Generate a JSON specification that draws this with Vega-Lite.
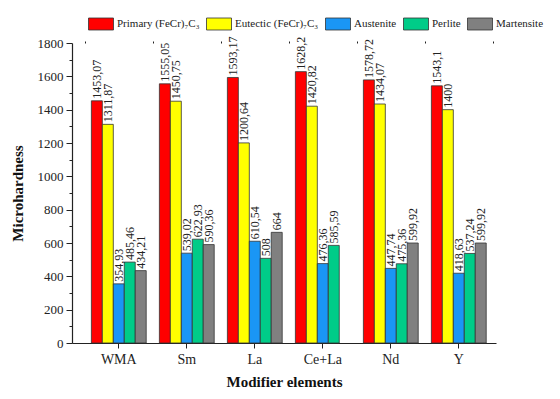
{
  "$schema": "https://vega.github.io/schema/vega-lite/v6.json",
  "width": 424,
  "height": 300,
  "autosize": {"type": "none"},
  "padding": {"left": 72, "top": 43, "right": 64, "bottom": 56},
  "background": "white",
  "config": {
    "font": "Liberation Serif",
    "view": {"stroke": null},
    "legend": {"labelFont": "Liberation Serif"},
    "axis": {"domainColor": "#222", "tickColor": "#222", "labelColor": "#222", "titleColor": "#111", "grid": false}
  },
  "data": {
    "values": [
      {"element": "WMA", "phase": "Primary (FeCr)₇C₃", "value": 1453.07, "label": "1453,07"},
      {"element": "WMA", "phase": "Eutectic (FeCr)₇C₃", "value": 1311.87, "label": "1311,87"},
      {"element": "WMA", "phase": "Austenite", "value": 354.93, "label": "354,93"},
      {"element": "WMA", "phase": "Perlite", "value": 485.46, "label": "485,46"},
      {"element": "WMA", "phase": "Martensite", "value": 434.21, "label": "434,21"},
      {"element": "Sm", "phase": "Primary (FeCr)₇C₃", "value": 1555.05, "label": "1555,05"},
      {"element": "Sm", "phase": "Eutectic (FeCr)₇C₃", "value": 1450.75, "label": "1450,75"},
      {"element": "Sm", "phase": "Austenite", "value": 539.02, "label": "539,02"},
      {"element": "Sm", "phase": "Perlite", "value": 622.93, "label": "622,93"},
      {"element": "Sm", "phase": "Martensite", "value": 590.36, "label": "590,36"},
      {"element": "La", "phase": "Primary (FeCr)₇C₃", "value": 1593.17, "label": "1593,17"},
      {"element": "La", "phase": "Eutectic (FeCr)₇C₃", "value": 1200.64, "label": "1200,64"},
      {"element": "La", "phase": "Austenite", "value": 610.54, "label": "610,54"},
      {"element": "La", "phase": "Perlite", "value": 508, "label": "508"},
      {"element": "La", "phase": "Martensite", "value": 664, "label": "664"},
      {"element": "Ce+La", "phase": "Primary (FeCr)₇C₃", "value": 1628.2, "label": "1628,2"},
      {"element": "Ce+La", "phase": "Eutectic (FeCr)₇C₃", "value": 1420.82, "label": "1420,82"},
      {"element": "Ce+La", "phase": "Austenite", "value": 476.36, "label": "476,36"},
      {"element": "Ce+La", "phase": "Perlite", "value": 585.59, "label": "585,59"},
      {"element": "Nd", "phase": "Primary (FeCr)₇C₃", "value": 1578.72, "label": "1578,72"},
      {"element": "Nd", "phase": "Eutectic (FeCr)₇C₃", "value": 1434.07, "label": "1434,07"},
      {"element": "Nd", "phase": "Austenite", "value": 447.74, "label": "447,74"},
      {"element": "Nd", "phase": "Perlite", "value": 475.36, "label": "475,36"},
      {"element": "Nd", "phase": "Martensite", "value": 599.92, "label": "599,92"},
      {"element": "Y", "phase": "Primary (FeCr)₇C₃", "value": 1543.1, "label": "1543,1"},
      {"element": "Y", "phase": "Eutectic (FeCr)₇C₃", "value": 1400, "label": "1400"},
      {"element": "Y", "phase": "Austenite", "value": 418.63, "label": "418,63"},
      {"element": "Y", "phase": "Perlite", "value": 537.24, "label": "537,24"},
      {"element": "Y", "phase": "Martensite", "value": 599.92, "label": "599,92"}
    ]
  },
  "encoding": {
    "x": {
      "field": "element", "type": "nominal", "sort": ["WMA", "Sm", "La", "Ce+La", "Nd", "Y"],
      "scale": {"paddingInner": 0, "paddingOuter": 0.1176, "align": 0.8}
    },
    "xOffset": {
      "field": "phase", "type": "nominal",
      "sort": ["Primary (FeCr)₇C₃", "Eutectic (FeCr)₇C₃", "Austenite", "Perlite", "Martensite"],
      "scale": {"domain": ["Primary (FeCr)₇C₃", "Eutectic (FeCr)₇C₃", "Austenite", "Perlite", "Martensite"], "paddingInner": 0, "paddingOuter": 0.6}
    },
    "y": {
      "field": "value", "type": "quantitative",
      "scale": {"domain": [0, 1800], "nice": false}
    }
  },
  "layer": [
    {
      "mark": {"type": "bar", "stroke": "#333", "strokeWidth": 0.8},
      "encoding": {
        "x": {
          "field": "element", "type": "nominal", "sort": ["WMA", "Sm", "La", "Ce+La", "Nd", "Y"],
          "axis": {"title": "Modifier elements", "labelAngle": 0, "labelFontSize": 14, "labelPadding": 4, "tickSize": 5, "titleFontSize": 15, "titleFontWeight": "bold", "titlePadding": 8, "domainWidth": 1.2}
        },
        "y": {
          "field": "value", "type": "quantitative",
          "axis": {"title": "Microhardness", "values": [0, 200, 400, 600, 800, 1000, 1200, 1400, 1600, 1800], "format": "d", "labelFontSize": 13, "tickSize": 6, "labelPadding": 3, "titleFontSize": 15, "titleFontWeight": "bold", "titlePadding": 12, "domainWidth": 1.2}
        },
        "color": {
          "field": "phase", "type": "nominal",
          "sort": ["Primary (FeCr)₇C₃", "Eutectic (FeCr)₇C₃", "Austenite", "Perlite", "Martensite"],
          "scale": {"domain": ["Primary (FeCr)₇C₃", "Eutectic (FeCr)₇C₃", "Austenite", "Perlite", "Martensite"], "range": ["#FF0000", "#FFFF00", "#1A96F5", "#00CC88", "#808080"]},
          "legend": {
            "title": null, "orient": "none", "legendX": 16, "legendY": -32, "direction": "horizontal", "columns": 5, "gridAlign": "none",
            "symbolType": "M-1,-0.48H1V0.48H-1Z", "symbolSize": 625, "symbolStrokeColor": "#333", "symbolStrokeWidth": 0.8,
            "labelFontSize": 11, "labelFont": "Liberation Serif", "labelOffset": 3, "columnPadding": 4, "labelColor": "#222", "labelLimit": 200
          }
        }
      }
    },
    {
      "mark": {"type": "text", "angle": 270, "align": "left", "baseline": "middle", "dx": 2, "fontSize": 12, "color": "#222"},
      "encoding": {
        "x": {
          "field": "element", "type": "nominal", "sort": ["WMA", "Sm", "La", "Ce+La", "Nd", "Y"],
          "axis": {"title": null, "labels": false, "tickBand": "extent", "tickSize": 2, "domain": false}
        },
        "y": {
          "field": "value", "type": "quantitative",
          "axis": {"title": null, "labels": false, "orient": "left", "values": [100, 300, 500, 700, 900, 1100, 1300, 1500, 1700], "tickSize": 3, "domain": false}
        },
        "text": {"field": "label", "type": "nominal"}
      }
    }
  ],
  "resolve": {"axis": {"x": "independent", "y": "independent"}}
}
